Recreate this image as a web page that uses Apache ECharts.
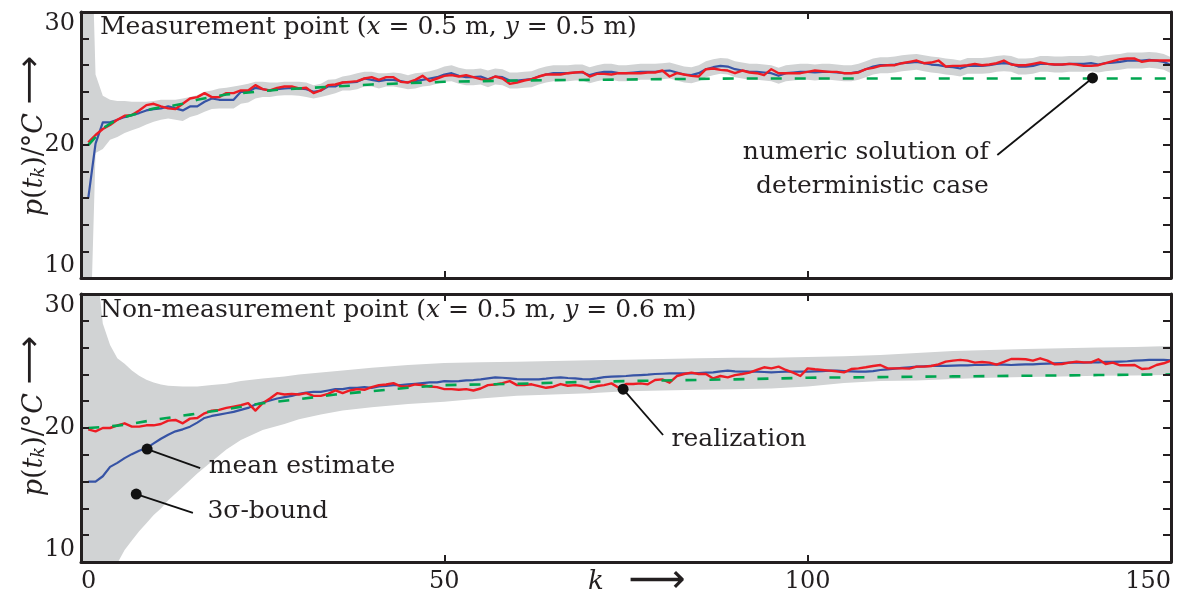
<!DOCTYPE html>
<html>
<head>
<meta charset="utf-8">
<script src="https://cdn.jsdelivr.net/npm/echarts@6/dist/echarts.min.js"></script>
<style>
html,body{margin:0;padding:0;background:#fff;}
#chart{width:1180px;height:597px;}
</style>
</head>
<body>
<div id="chart"></div>
<script>
// ---------- DATA ----------
const xTicks = [0, 50, 100, 150];
const yTickLabels = [10, 20, 30];

// Top panel: measurement point, k = 1..150
const topMean = [
16.0,20.1,21.7,21.7,21.9,22.1,22.25,22.4,22.6,22.7,
22.75,22.9,22.75,22.6,22.9,22.9,23.25,23.5,23.4,23.4,
23.4,24.0,24.0,24.3,24.2,24.1,24.2,24.25,24.3,24.25,
24.2,24.0,24.1,24.4,24.4,24.7,24.7,24.75,25.0,24.9,
24.8,24.9,24.9,24.8,24.7,24.8,24.9,25.0,25.1,25.3,
25.4,25.2,25.1,25.1,25.15,24.95,25.15,25.1,24.85,24.85,
24.9,24.95,25.15,25.3,25.4,25.4,25.4,25.45,25.45,25.25,
25.4,25.5,25.5,25.4,25.4,25.45,25.5,25.5,25.5,25.55,
25.6,25.45,25.3,25.25,25.4,25.7,25.85,25.95,25.9,25.7,
25.6,25.5,25.5,25.45,25.4,25.2,25.4,25.45,25.5,25.5,
25.45,25.5,25.5,25.45,25.4,25.4,25.5,25.7,25.9,26.0,
26.0,26.05,26.15,26.2,26.25,26.15,26.05,26.0,25.9,25.85,
25.75,25.95,25.95,25.95,26.0,26.1,26.15,26.1,25.9,25.9,
25.95,26.1,26.1,26.05,26.05,26.1,26.1,26.1,26.15,26.05,
26.15,26.2,26.25,26.35,26.35,26.35,26.4,26.35,26.25,26.0
];
const topReal = [
20.2,20.75,21.2,21.5,21.9,22.2,22.25,22.6,23.0,23.1,
22.9,22.75,22.7,23.1,23.5,23.6,23.9,23.6,23.6,23.9,
23.9,24.1,24.1,24.5,24.2,24.1,24.3,24.4,24.4,24.25,
24.3,23.9,24.1,24.5,24.55,24.7,24.75,24.8,25.0,25.1,
24.9,25.1,25.1,24.75,24.7,24.9,25.2,24.8,25.0,25.2,
25.25,25.15,25.25,25.1,24.95,24.9,25.15,25.0,24.6,24.7,
24.85,24.95,25.15,25.3,25.3,25.3,25.4,25.45,25.5,25.15,
25.35,25.35,25.3,25.4,25.4,25.4,25.4,25.45,25.45,25.6,
25.15,25.4,25.3,25.2,25.15,25.7,25.75,25.65,25.6,25.4,
25.6,25.45,25.4,25.25,25.7,25.4,25.4,25.4,25.4,25.5,
25.6,25.55,25.5,25.5,25.4,25.4,25.45,25.7,25.8,25.95,
26.0,26.0,26.15,26.25,26.35,26.15,26.2,26.35,25.9,25.95,
25.95,26.0,26.1,26.0,26.05,26.15,26.35,26.05,26.0,26.0,
26.1,26.2,26.1,26.05,26.05,26.1,26.05,25.95,25.95,26.0,
26.15,26.3,26.45,26.5,26.5,26.25,26.35,26.35,26.35,26.35
];
// numeric solution (deterministic), sparse k / value
const topNumK   = [1,2,3,4,5,6,7,8,9,10,12,14,16,18,20,22,25,28,30,35,40,45,50,55,60,70,80,90,100,150];
const topNumVal = [20.0,20.6,21.25,21.6,21.9,22.1,22.25,22.4,22.6,22.75,22.9,23.1,23.4,23.6,23.8,23.9,24.05,24.2,24.25,24.4,24.55,24.65,24.75,24.8,24.85,24.9,24.95,25.0,25.0,25.0];
// 3-sigma band, k = 0..150
const topBandLow = [
0,0,19.4,19.7,20.4,20.6,20.9,21.1,21.3,21.55,21.75,
21.9,22.0,21.9,21.8,22.1,22.25,22.5,22.7,22.75,22.75,
22.75,23.1,23.2,23.5,23.6,23.6,23.7,23.75,23.75,23.7,
23.6,23.5,23.6,23.75,23.9,24.1,24.1,24.2,24.4,24.4,
24.25,24.4,24.4,24.3,24.2,24.25,24.4,24.45,24.6,24.75,
24.8,24.6,24.5,24.5,24.55,24.35,24.55,24.5,24.25,24.25,
24.3,24.35,24.55,24.7,24.8,24.8,24.8,24.85,24.85,24.65,
24.8,24.9,24.9,24.8,24.8,24.85,24.9,24.9,24.9,24.95,
25.0,24.85,24.7,24.65,24.8,25.1,25.25,25.35,25.3,25.1,
25.0,24.9,24.9,24.85,24.8,24.6,24.8,24.85,24.9,24.9,
24.85,24.9,24.9,24.85,24.8,24.8,24.9,25.1,25.3,25.4,
25.4,25.45,25.55,25.6,25.65,25.55,25.45,25.4,25.3,25.25,
25.15,25.35,25.35,25.35,25.4,25.5,25.55,25.5,25.3,25.3,
25.35,25.5,25.5,25.45,25.45,25.5,25.5,25.5,25.55,25.45,
25.55,25.6,25.65,25.75,25.75,25.75,25.8,25.75,25.65,25.4
];
const topBandHigh = [
45,45,25.3,23.7,23.4,23.3,23.3,23.25,23.25,23.25,23.3,
23.4,23.4,23.4,23.5,23.6,23.75,24.0,24.1,24.25,24.3,
24.4,24.5,24.6,24.75,24.75,24.7,24.7,24.75,24.75,24.75,
24.7,24.5,24.6,24.9,24.95,25.15,25.25,25.4,25.5,25.5,
25.4,25.4,25.45,25.4,25.25,25.4,25.45,25.55,25.7,25.9,
26.0,25.8,25.7,25.7,25.75,25.6,25.75,25.7,25.45,25.45,
25.5,25.55,25.75,25.9,26.0,26.0,26.0,26.05,26.05,25.85,
26.0,26.1,26.1,26.0,26.0,26.05,26.1,26.1,26.1,26.15,
26.2,26.05,25.9,25.85,26.0,26.3,26.45,26.55,26.5,26.3,
26.2,26.1,26.1,26.05,26.0,25.8,26.0,26.05,26.1,26.1,
26.05,26.1,26.1,26.05,26.0,26.0,26.1,26.3,26.5,26.6,
26.6,26.65,26.75,26.8,26.85,26.75,26.65,26.6,26.5,26.45,
26.35,26.55,26.55,26.55,26.6,26.7,26.75,26.7,26.5,26.5,
26.55,26.7,26.7,26.65,26.65,26.7,26.7,26.7,26.75,26.65,
26.75,26.8,26.85,26.95,26.95,26.95,27.0,26.95,26.85,26.6
];

// Bottom panel: non-measurement point, k = 1..150
const botMean = [
16.0,16.0,16.4,17.1,17.4,17.75,18.05,18.3,18.5,18.85,
19.2,19.5,19.75,19.9,20.1,20.4,20.75,20.9,21.0,21.1,
21.2,21.35,21.5,21.75,21.9,22.05,22.2,22.3,22.4,22.55,
22.65,22.7,22.7,22.8,22.9,22.9,23.0,23.0,23.05,23.0,
23.1,23.15,23.2,23.2,23.25,23.3,23.35,23.4,23.4,23.5,
23.48,23.5,23.55,23.58,23.63,23.7,23.78,23.75,23.7,23.65,
23.63,23.63,23.63,23.68,23.75,23.78,23.73,23.7,23.65,23.63,
23.7,23.8,23.83,23.85,23.88,23.93,23.95,23.98,24.03,24.05,
24.08,24.08,24.08,24.08,24.1,24.13,24.15,24.23,24.28,24.23,
24.2,24.2,24.2,24.18,24.15,24.18,24.2,24.2,24.2,24.2,
24.23,24.25,24.28,24.28,24.25,24.23,24.2,24.2,24.25,24.33,
24.38,24.43,24.48,24.53,24.58,24.6,24.63,24.63,24.63,24.65,
24.68,24.68,24.7,24.7,24.73,24.75,24.73,24.7,24.73,24.75,
24.75,24.78,24.8,24.83,24.85,24.88,24.88,24.88,24.9,24.9,
24.93,24.93,24.95,24.98,25.03,25.05,25.08,25.08,25.08,25.05
];
const botReal = [
19.9,19.75,20.0,20.0,20.2,20.35,20.1,20.1,20.2,20.2,
20.3,20.55,20.6,20.35,20.7,20.75,21.1,21.3,21.35,21.5,
21.6,21.7,21.85,21.3,21.85,22.2,22.6,22.5,22.55,22.5,
22.6,22.4,22.4,22.55,22.8,22.6,22.8,22.9,22.85,23.05,
23.2,23.25,23.35,23.1,23.1,23.25,23.2,23.1,23.05,22.9,
22.9,22.85,22.9,22.8,22.95,23.2,23.25,23.35,23.5,23.2,
23.2,23.26,23.13,23.0,23.08,23.28,23.15,23.2,23.13,22.96,
23.13,23.2,23.33,23.0,23.28,23.28,23.33,23.26,23.58,23.63,
23.38,23.88,24.03,24.13,24.03,24.03,23.7,23.88,23.78,23.95,
24.03,24.13,24.33,24.53,24.45,24.58,24.33,24.13,23.88,24.45,
24.38,24.33,24.28,24.23,24.15,24.4,24.45,24.53,24.63,24.7,
24.45,24.45,24.45,24.43,24.58,24.58,24.63,24.75,24.95,25.03,
25.08,25.03,24.88,24.93,24.88,24.73,24.93,25.15,25.15,25.13,
25.03,25.2,25.03,24.75,24.78,24.88,24.95,24.9,24.9,25.13,
24.78,24.88,24.68,24.68,24.7,24.4,24.45,24.7,24.83,25.03
];
const botNumK   = [1,3,5,7,10,15,20,25,30,35,40,45,50,60,70,80,90,100,110,120,130,140,150];
const botNumVal = [20.0,20.07,20.18,20.32,20.6,21.0,21.4,21.85,22.15,22.5,22.75,23.0,23.2,23.3,23.45,23.55,23.63,23.75,23.8,23.85,23.9,23.95,24.0];
const botBandK    = [0,1,2,3,4,5,6,7,8,9,10,11,12,14,16,18,20,22,25,28,30,33,36,40,45,50,55,60,65,70,75,80,85,90,95,100,105,110,115,120,125,130,135,140,145,150];
const botBandLow  = [0,0,2,5.5,8.2,9.9,10.9,11.6,12.3,12.9,13.5,14.0,14.6,15.6,16.6,17.5,18.4,19.1,19.85,20.3,20.65,21.0,21.3,21.55,21.8,21.95,22.2,22.4,22.5,22.6,22.75,22.8,22.85,22.9,22.95,23.1,23.35,23.5,23.55,23.65,23.75,23.8,23.85,23.9,23.92,23.96];
const botBandHigh = [45,45,33,27.8,26.2,25.2,24.8,24.3,23.9,23.6,23.4,23.25,23.15,23.1,23.1,23.2,23.3,23.5,23.7,23.85,24.0,24.15,24.3,24.5,24.7,24.85,24.9,24.95,25.0,25.05,25.1,25.15,25.2,25.25,25.25,25.3,25.35,25.45,25.6,25.75,25.82,25.9,25.95,26.0,26.05,26.12];

// annotation anchors in data coordinates: [dot k, dot value, end k, end value]
const annNumeric = [139.2, 25.04, 126.1, 19.25];
const annReal    = [74.6, 22.9, 80.1, 19.48];
const annMean    = [9.1, 18.43, 16.4, 17.0];
const annBound   = [7.6, 15.07, 15.4, 13.66];

// ---------- CHART ----------
const FONT = 'DejaVu Serif';
const INK = '#231f20';
const BAND = '#d1d3d4';
const BLUE = '#3653a5';
const RED = '#ed1c24';
const GREEN = '#00a650';

const pairs = (arr, start) => arr.map((v, i) => [i + start, v]);
const kpairs = (ks, vs) => ks.map((k, i) => [k, vs[i]]);

function xAxisDef(grid, pos, showLabels) {
  return {
    type: 'value', gridIndex: grid, position: pos, min: 0, max: 150, interval: 50, z: 10,
    axisLine: { show: true, onZero: false, lineStyle: { color: INK, width: 3 } },
    axisTick: { show: true, inside: true, length: 7, lineStyle: { color: INK, width: 2 } },
    splitLine: { show: false },
    axisLabel: showLabels ? {
      show: true, fontFamily: FONT, fontSize: 24, color: INK, margin: 8,
      alignMinLabel: 'left', alignMaxLabel: 'right'
    } : { show: false }
  };
}
function yAxisDef(grid, pos, showLabels) {
  return {
    type: 'value', gridIndex: grid, position: pos, min: 10, max: 30, interval: 2, z: 10,
    axisLine: { show: true, onZero: false, lineStyle: { color: INK, width: 3 } },
    axisTick: { show: true, inside: true, length: 8, lineStyle: { color: INK, width: 2 } },
    splitLine: { show: false },
    axisLabel: showLabels ? {
      show: true, fontFamily: FONT, fontSize: 24, color: INK, margin: 6,
      formatter: v => (yTickLabels.indexOf(v) >= 0 ? String(v) : ''),
      verticalAlignMinLabel: 'bottom', verticalAlignMaxLabel: 'top'
    } : { show: false }
  };
}

// band = grey area under the upper bound, then a white area under the lower bound
function bandSeries(xi, yi, ks, lows, highs) {
  return [
    { type: 'line', xAxisIndex: xi, yAxisIndex: yi, data: kpairs(ks, highs), symbol: 'none',
      lineStyle: { width: 0, opacity: 0 }, areaStyle: { color: BAND, opacity: 1, origin: 'start' }, silent: true, z: 1 },
    { type: 'line', xAxisIndex: xi, yAxisIndex: yi, data: kpairs(ks, lows), symbol: 'none',
      lineStyle: { width: 0, opacity: 0 }, areaStyle: { color: '#ffffff', opacity: 1, origin: 'start' }, silent: true, z: 2 }
  ];
}
function lineSeries(xi, yi, data, color, width, dashed) {
  return { type: 'line', xAxisIndex: xi, yAxisIndex: yi, data: data, symbol: 'none', silent: true,
    lineStyle: { color: color, width: width, type: dashed ? [11, 13] : 'solid', cap: 'butt', join: 'round' }, z: 3 };
}
function annSeries(xi, yi, a, text, pos, offset) {
  return { type: 'line', xAxisIndex: xi, yAxisIndex: yi, silent: true, z: 5, showAllSymbol: true,
    lineStyle: { color: '#111', width: 1.8 },
    data: [
      { value: [a[0], a[1]], symbol: 'circle', symbolSize: 11, itemStyle: { color: '#111' } },
      { value: [a[2], a[3]], symbol: 'circle', symbolSize: 1, itemStyle: { color: 'rgba(0,0,0,0)' },
        label: { show: true, position: pos, distance: 8, offset: offset, formatter: text,
          fontFamily: FONT, fontSize: 25, color: INK, lineHeight: 34 } }
    ] };
}

const k150 = topBandLow.map((_, i) => i);
const series = [].concat(
  bandSeries(0, 0, k150, topBandLow, topBandHigh),
  [lineSeries(0, 0, pairs(topMean, 1), BLUE, 2.2),
   lineSeries(0, 0, pairs(topReal, 1), RED, 2.4),
   lineSeries(0, 0, kpairs(topNumK, topNumVal), GREEN, 2.6, true),
   annSeries(0, 0, annNumeric, 'numeric solution of\ndeterministic case', 'left', [0, 15])],
  bandSeries(2, 2, botBandK, botBandLow, botBandHigh),
  [lineSeries(2, 2, pairs(botMean, 1), BLUE, 2.2),
   lineSeries(2, 2, pairs(botReal, 1), RED, 2.4),
   lineSeries(2, 2, kpairs(botNumK, botNumVal), GREEN, 2.6, true),
   annSeries(2, 2, annReal, 'realization', 'right', [0, 5]),
   annSeries(2, 2, annMean, 'mean estimate', 'right', [0, -2]),
   annSeries(2, 2, annBound, '3σ-bound', 'right', [6, -1])]
);

const titleRich = {
  n: { fontFamily: FONT, fontSize: 25, fill: INK },
  i: { fontFamily: FONT, fontSize: 25, fontStyle: 'italic', fill: INK }
};
const ylabRich = {
  n: { fontFamily: FONT, fontSize: 27, fill: INK, lineHeight: 34, verticalAlign: 'bottom' },
  i: { fontFamily: FONT, fontSize: 27, fontStyle: 'italic', fill: INK, lineHeight: 34, verticalAlign: 'bottom' },
  s: { fontFamily: FONT, fontSize: 18, fontStyle: 'italic', fill: INK, lineHeight: 20, verticalAlign: 'bottom' },
  a: { fontFamily: 'DejaVu Sans', fontSize: 34, fill: INK, lineHeight: 34, verticalAlign: 'bottom' }
};
function ylab(y) {
  return { type: 'text', x: 31, y: y, rotation: Math.PI / 2, silent: true, z: 20,
    style: { text: '{i|p}{n|(}{i|t}{s|k}{n|)/°}{i|C}{n| }{a|⟶}', rich: ylabRich, align: 'center', verticalAlign: 'middle' } };
}

const option = {
  animation: false,
  backgroundColor: '#ffffff',
  grid: [
    { left: 81, right: 9, top: 12, height: 266 },
    { left: 81, right: 9, top: 294, height: 268 }
  ],
  xAxis: [xAxisDef(0, 'bottom', false), xAxisDef(0, 'top', false), xAxisDef(1, 'bottom', true), xAxisDef(1, 'top', false)],
  yAxis: [yAxisDef(0, 'left', true), yAxisDef(0, 'right', false), yAxisDef(1, 'left', true), yAxisDef(1, 'right', false)],
  series: series,
  graphic: [
    { type: 'text', left: 100, top: 15, silent: true, z: 20,
      style: { text: '{n|Measurement point (}{i|x}{n| = 0.5 m, }{i|y}{n| = 0.5 m)}', rich: titleRich } },
    { type: 'text', left: 100, top: 298, silent: true, z: 20,
      style: { text: '{n|Non-measurement point (}{i|x}{n| = 0.5 m, }{i|y}{n| = 0.6 m)}', rich: titleRich } },
    ylab(136),
    ylab(416),
    { type: 'text', left: 588, top: 562, silent: true, z: 20,
      style: { text: '{i|k}{n|   }{a|⟶}', rich: {
        i: { fontFamily: FONT, fontSize: 26, fontStyle: 'italic', fill: INK, lineHeight: 34 },
        n: { fontFamily: FONT, fontSize: 26, fill: INK, lineHeight: 34 },
        a: { fontFamily: 'DejaVu Sans', fontSize: 40, fill: INK, lineHeight: 34 } } } }
  ]
};

const chart = echarts.init(document.getElementById('chart'), null, { renderer: 'canvas' });
chart.setOption(option);
</script>
</body>
</html>
